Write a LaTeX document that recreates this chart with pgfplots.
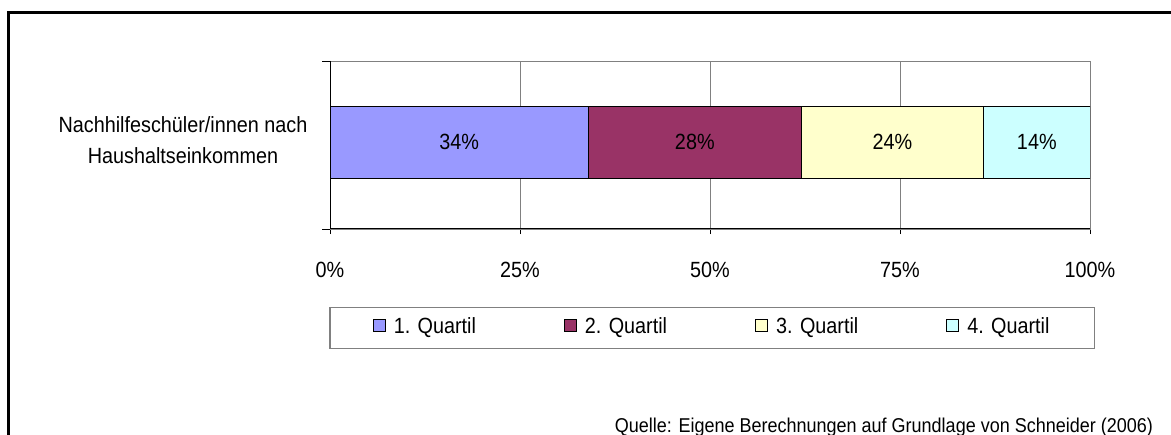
\documentclass[border=0pt]{standalone}
\usepackage{fontspec}
\setmainfont{Liberation Sans}[FakeStretch=0.9]
\usepackage{pgfplots}
\pgfplotsset{compat=1.18}
\definecolor{q1}{HTML}{9999FF}
\definecolor{q2}{HTML}{993366}
\definecolor{q3}{HTML}{FFFFCC}
\definecolor{q4}{HTML}{CCFFFF}
\definecolor{gridgray}{HTML}{808080}
\begin{document}
\begin{tikzpicture}
\begin{axis}[
  at={(165pt,102.5pt)}, anchor=south west,
  scale only axis, width=380pt, height=84pt,
  xbar stacked, bar width=36pt,
  xmin=0, xmax=100, ymin=-1, ymax=1,
  xtick={0,25,50,75,100},
  xticklabels={0\%,25\%,50\%,75\%,100\%},
  ytick={-1,1}, yticklabels={},
  xtick pos=left, ytick pos=left,
  tick align=outside,
  xtick style={draw=black, line width=0.5pt, /pgfplots/major tick length=2.5pt},
  ytick style={draw=black, line width=0.5pt, /pgfplots/major tick length=4pt},
  xmajorgrids, grid style={gridgray, line width=0.5pt},
  axis line style={gridgray, line width=0.5pt},
  tick label style={font=\fontsize{11}{13}\selectfont},
  xticklabel style={anchor=base, yshift=-20pt},
  legend columns=4,
  legend cell align=left,
  legend style={at={(-0.0013,-0.464)}, anchor=north west,
    draw=gridgray, line width=0.75pt,
    inner xsep=0pt, inner ysep=5pt,
    column sep=0pt,
    /tikz/every odd column/.append style={column sep=4pt},
    font=\fontsize{11}{13}\selectfont,
    nodes={inner sep=0pt, text height=8pt, text depth=2.5pt}},
  legend image code/.code={\path (-21.5pt,0pt); \draw[#1, draw=black, line width=0.5pt] (0pt,-1.8pt) rectangle (6pt,4.2pt);},
]
\addplot[fill=q1, draw=black, line width=0.5pt] coordinates {(34,0.035)};
\addplot[fill=q2, draw=black, line width=0.5pt] coordinates {(28,0.035)};
\addplot[fill=q3, draw=black, line width=0.5pt] coordinates {(24,0.035)};
\addplot[fill=q4, draw=black, line width=0.5pt] coordinates {(14,0.035)};
\addlegendentry{\makebox[63.6pt][l]{1. Quartil}}
\addlegendentry{\makebox[63.6pt][l]{2. Quartil}}
\addlegendentry{\makebox[63.6pt][l]{3. Quartil}}
\addlegendentry{\makebox[63.6pt][l]{4. Quartil}}
\coordinate (l1) at (axis cs:17,0.035);
\coordinate (l2) at (axis cs:48,0.035);
\coordinate (l3) at (axis cs:74,0.035);
\coordinate (l4) at (axis cs:93,0.035);
\coordinate (a0) at (rel axis cs:0,0);
\coordinate (a1) at (rel axis cs:0,1);
\coordinate (a2) at (rel axis cs:1,0);
\end{axis}
\draw[black, line width=0.5pt] (a1) -- (a0) -- (a2);
\node[font=\fontsize{11}{13}\selectfont] at (l1) {34\%};
\node[font=\fontsize{11}{13}\selectfont] at (l2) {28\%};
\node[font=\fontsize{11}{13}\selectfont] at (l3) {24\%};
\node[font=\fontsize{11}{13}\selectfont] at (l4) {14\%};
\node[anchor=base, font=\fontsize{11}{13}\selectfont] at (91.5pt,150.5pt) {Nachhilfeschüler/innen nach};
\node[anchor=base, font=\fontsize{11}{13}\selectfont] at (91.5pt,135pt) {Haushaltseinkommen};
\node[anchor=base east, font=\fontsize{10}{12}\selectfont] at (580pt,1pt) {Quelle: Eigene Berechnungen auf Grundlage von Schneider (2006)};
\draw[black, line width=1.3pt] (4.35pt,-5pt) -- (4.35pt,210.6pt) -- (600pt,210.6pt);
\pgfresetboundingbox
\path[use as bounding box] (0,0) rectangle (585.5pt,217pt);
\end{tikzpicture}
\end{document}
